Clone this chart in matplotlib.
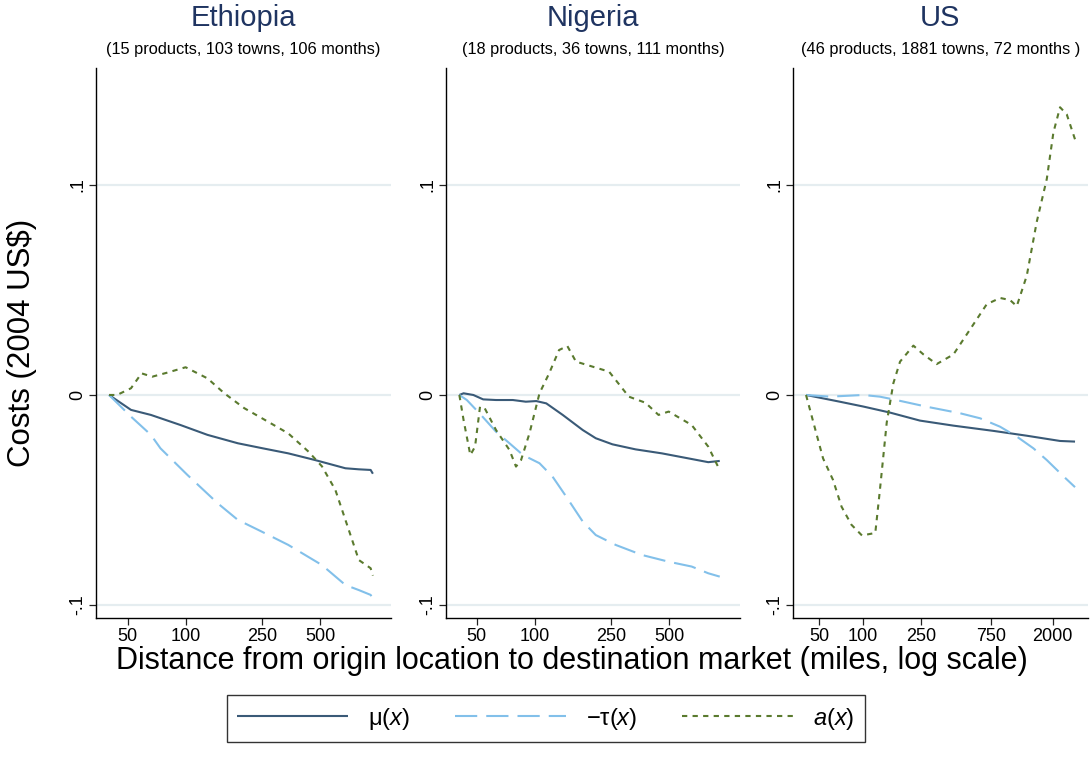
import numpy as np
import matplotlib
matplotlib.use("Agg")
import matplotlib.pyplot as plt
from matplotlib.ticker import FixedLocator, NullLocator

plt.rcParams['font.family'] = ['Liberation Sans', 'DejaVu Sans']
plt.rcParams['mathtext.fontset'] = 'custom'
plt.rcParams['mathtext.rm'] = 'Liberation Sans'
plt.rcParams['mathtext.it'] = 'Liberation Sans:italic'
plt.rcParams['lines.scale_dashes'] = False

# ---- data (miles, cost in 2004 US$) ----
countries = ["Ethiopia", "Nigeria", "US"]
subtitles = ["(15 products, 103 towns, 106 months)",
             "(18 products, 36 towns, 111 months)",
             "(46 products, 1881 towns, 72 months )"]

# Ethiopia
mu_eth_x = [40, 52, 66, 94, 130, 187, 252, 342, 472, 678, 796, 917, 942]
mu_eth = [0, -0.0071, -0.0095, -0.0143, -0.019, -0.023, -0.0254, -0.0278, -0.031, -0.0349, -0.0354, -0.0357, -0.0375]
tau_eth_x = [40, 52, 66, 74, 102, 147, 187, 248, 342, 512, 678, 796, 917, 942]
tau_eth = [0, -0.0103, -0.019, -0.0254, -0.038, -0.0516, -0.0595, -0.065, -0.0714, -0.081, -0.0905, -0.0929, -0.0952, -0.097]
a_eth_x = [40, 44, 52, 59, 67, 80, 100, 130, 159, 202, 268, 342, 436, 512, 601, 706, 796, 917, 942]
a_eth = [0, 0, 0.0032, 0.0103, 0.0087, 0.0106, 0.0132, 0.0079, 0.0008, -0.0063, -0.0127, -0.0183, -0.027, -0.034, -0.0452, -0.0643, -0.0786, -0.0825, -0.086]

# Nigeria
mu_nga_x = [40.6, 42.7, 48, 54, 63, 77, 90, 102, 115, 140, 178, 208, 254, 335, 459, 631, 800, 918]
mu_nga = [0, 0.0008, 0, -0.0021, -0.0024, -0.0024, -0.0032, -0.0029, -0.004, -0.0095, -0.0167, -0.0206, -0.0235, -0.0259, -0.0278, -0.0302, -0.032, -0.0314]
tau_nga_x = [40.6, 44.4, 52, 63, 74, 87, 106, 124, 146, 178, 208, 264, 362, 498, 656, 800, 918]
tau_nga = [0, -0.0024, -0.009, -0.0175, -0.023, -0.0286, -0.0325, -0.0389, -0.0484, -0.0603, -0.0667, -0.0714, -0.0762, -0.0794, -0.0817, -0.0849, -0.0865]
a_nga_x = [40.6, 42.7, 46.3, 49, 52, 55, 63, 74, 80, 85, 94, 106, 119, 134, 148, 164, 200, 244, 309, 377, 441, 498, 656, 800, 899, 918]
a_nga = [0, -0.0119, -0.0286, -0.0246, -0.0056, -0.0063, -0.0167, -0.0262, -0.0341, -0.031, -0.0183, 0.0008, 0.0103, 0.0214, 0.0233, 0.0159, 0.0135, 0.0111, -0.0008, -0.0037, -0.0095, -0.0079, -0.0143, -0.0246, -0.0341, -0.033]

# US
mu_us_x = [40.5, 69, 100, 153, 245, 416, 783, 1326, 2244, 2843]
mu_us = [0, -0.0032, -0.0055, -0.0084, -0.0122, -0.0146, -0.0171, -0.0194, -0.0219, -0.0222]
tau_us_x = [40.5, 59, 100, 130, 161, 273, 462, 634, 869, 1132, 1473, 1820, 2366, 2843]
tau_us = [0, -0.0008, 0, -0.0008, -0.0021, -0.0056, -0.0087, -0.0111, -0.0151, -0.0198, -0.0254, -0.031, -0.0387, -0.0439]
a_us_x = [40.5, 45.5, 53, 62, 71, 83, 98, 121, 130, 145, 161, 179, 221, 259, 319, 416, 541, 704, 869, 1018, 1132, 1326, 1552, 1820, 2020, 2244, 2495, 2843]
a_us = [0, -0.0131, -0.0302, -0.0404, -0.0532, -0.0618, -0.0669, -0.0657, -0.0456, -0.0131, 0.0056, 0.0159, 0.0235, 0.0193, 0.0147, 0.0193, 0.0312, 0.0432, 0.0462, 0.0452, 0.0423, 0.0568, 0.0824, 0.1029, 0.125, 0.137, 0.1336, 0.1217]

mu_x = [mu_eth_x, mu_nga_x, mu_us_x]
mu_y = [mu_eth, mu_nga, mu_us]
tau_x = [tau_eth_x, tau_nga_x, tau_us_x]
tau_y = [tau_eth, tau_nga, tau_us]
a_x = [a_eth_x, a_nga_x, a_us_x]
a_y = [a_eth, a_nga, a_us]

xticks = [[50, 100, 250, 500], [50, 100, 250, 500], [50, 100, 250, 750, 2000]]
xlims = [(34.2, 1166), (34.6, 1170), (32.8, 3490)]
yticks = [-0.1, 0, 0.1]
yticklabels = ["-.1", "0", ".1"]

c_mu = "#3a5a77"
c_tau = "#82c0ea"
c_a = "#5a7a2e"
c_title = "#1f3461"
c_grid = "#e5edf0"

fig = plt.figure(figsize=(10.9, 7.7), dpi=100)
lefts = [96, 446, 792.7]
widths = [294.7, 294, 295.3]

handles = None
for i in range(3):
    ax = fig.add_axes([lefts[i] / 1090, (770 - 618) / 770, widths[i] / 1090, 550 / 770])
    ax.set_xscale('log')
    l1, = ax.plot(mu_x[i], mu_y[i], color=c_mu, lw=1.5, solid_capstyle='butt')
    l2, = ax.plot(tau_x[i], tau_y[i], color=c_tau, lw=1.5, dashes=(16, 6.5))
    l3, = ax.plot(a_x[i], a_y[i], color=c_a, lw=1.5, dashes=(3.8, 3.8))
    handles = [l1, l2, l3]

    ax.set_xlim(*xlims[i])
    ax.set_ylim(-0.1062, 0.1557)
    ax.xaxis.set_major_locator(FixedLocator(xticks[i]))
    ax.xaxis.set_minor_locator(NullLocator())
    ax.set_xticklabels([str(t) for t in xticks[i]])
    ax.set_yticks(yticks)
    ax.set_yticklabels(yticklabels, rotation=90, va='center')
    ax.tick_params(axis='both', direction='out', length=5, width=0.9, labelsize=13, pad=2, color='#222222')
    ax.yaxis.grid(True, color=c_grid, lw=1.6)
    ax.set_axisbelow(True)
    for s in ['top', 'right']:
        ax.spines[s].set_visible(False)
    for s in ['left', 'bottom']:
        ax.spines[s].set_linewidth(1.0)
        ax.spines[s].set_color('black')

    ax.text(0.5, 1.091, countries[i], transform=ax.transAxes, ha='center', va='center',
            fontsize=21, color=c_title)
    ax.text(0.5, 1.033, subtitles[i], transform=ax.transAxes, ha='center', va='center',
            fontsize=11.8, color='black')

fig.text(22 / 1090, (770 - 343) / 770, "Costs (2004 US$)", rotation=90, ha='center', va='center', fontsize=22.5)
fig.text(572 / 1090, (770 - 661) / 770, "Distance from origin location to destination market (miles, log scale)",
         ha='center', va='center', fontsize=22)

leg = fig.legend(handles, ["\u03bc($x$)", "\u2212\u03c4($x$)", "$a$($x$)"], ncol=3,
                 loc='center', bbox_to_anchor=(546 / 1090, (770 - 718.5) / 770),
                 fontsize=17, frameon=True, fancybox=False, handlelength=4.7,
                 columnspacing=1.9, handletextpad=0.85, borderpad=0.45, edgecolor='black')
leg.get_frame().set_linewidth(1.0)

fig.savefig("out.png", dpi=100, facecolor='white')
